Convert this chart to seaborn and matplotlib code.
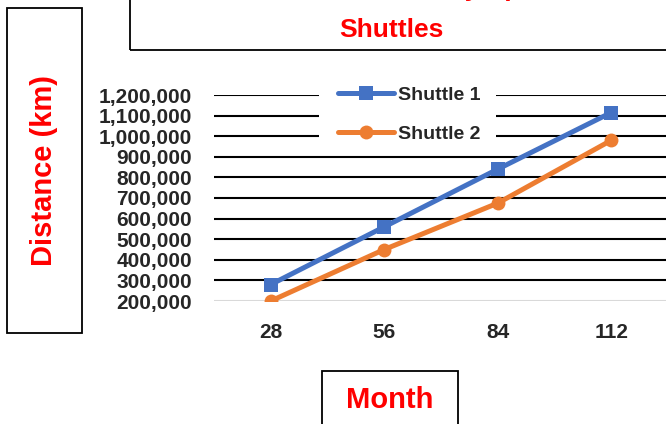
import pandas as pd
import matplotlib.pyplot as plt
import matplotlib.patches as mpatches
from matplotlib.ticker import FuncFormatter
import seaborn as sns

months = ['28', '56', '84', '112']
shuttle_1 = [280000, 560000, 840000, 1115000]
shuttle_2 = [200000, 450000, 675000, 980000]
series_names = ['Shuttle 1', 'Shuttle 2']
y_ticks = [200000, 300000, 400000, 500000, 600000, 700000,
           800000, 900000, 1000000, 1100000, 1200000]

df = pd.DataFrame({
    'Month': months * 2,
    'Distance': shuttle_1 + shuttle_2,
    'Series': [series_names[0]] * 4 + [series_names[1]] * 4,
})

sns.set_style('white')
plt.rcParams['font.family'] = ['Liberation Sans', 'DejaVu Sans']
plt.rcParams['font.weight'] = 'bold'

W, H = 666, 424
ax_l, ax_r, ax_t, ax_b = 214, 668, 95, 301
fig = plt.figure(figsize=(W / 100, H / 100), dpi=100)
ax = fig.add_axes([ax_l / W, 1 - ax_b / H, (ax_r - ax_l) / W, (ax_b - ax_t) / H])

def ax_x(px):
    return (px - ax_l) / (ax_r - ax_l)

def ax_y(px):
    return (ax_b - px) / (ax_b - ax_t)

ax.set_ylim(200000, 1200000)
ax.set_yticks(y_ticks)
for t in y_ticks[1:]:
    ax.axhline(t, color='black', lw=1.5, zorder=1)
ax.axhline(200000, color='#d9d9d9', lw=1.5, zorder=1)

sns.lineplot(data=df, x='Month', y='Distance', hue='Series', style='Series',
             markers={'Shuttle 1': 's', 'Shuttle 2': 'o'}, dashes=False,
             palette={'Shuttle 1': '#4472c4', 'Shuttle 2': '#ed7d31'},
             linewidth=3.6, markersize=10, markeredgewidth=0, ax=ax, zorder=3)
ax.set_xlim(-0.5, 3.5)

for s in ax.spines.values():
    s.set_visible(False)
ax.tick_params(length=0, labelsize=15)
ax.tick_params(axis='y', pad=16)
ax.tick_params(axis='x', pad=16)
ax.yaxis.set_major_formatter(FuncFormatter(lambda v, p: f'{int(v):,}'))
for lab in ax.get_xticklabels() + ax.get_yticklabels():
    lab.set_fontweight('bold')
ax.set_xlabel('')
ax.set_ylabel('')

# white background behind the legend, hiding the gridlines there
ax.add_patch(mpatches.Rectangle((ax_x(319), ax_y(147)), ax_x(496) - ax_x(319), ax_y(70) - ax_y(147),
                                transform=ax.transAxes, facecolor='white', edgecolor='none',
                                zorder=2, clip_on=False))
leg = ax.legend(loc='upper left', bbox_to_anchor=(ax_x(338), ax_y(86)),
                borderaxespad=0, frameon=False, fontsize=14, handlelength=2.9,
                handletextpad=0.2, labelspacing=1.1, borderpad=0, title=None)
for t in leg.get_texts():
    t.set_fontweight('bold')

# boxed title and axis labels
box_kw = dict(fill=False, edgecolor='black', lw=1.3, transform=fig.transFigure, clip_on=False)
fig.patches.append(mpatches.Rectangle((130 / W, 1 - 50 / H), 600 / W, 80 / H, **box_kw))
fig.patches.append(mpatches.Rectangle((7 / W, 1 - 333 / H), 75 / W, 325 / H, **box_kw))
fig.patches.append(mpatches.Rectangle((322 / W, 1 - 440 / H), 136 / W, 69 / H, **box_kw))

fig.text(391 / W, 1 - 42 / H, 'Distance Traveled by Space\nShuttles', ha='center', va='bottom',
         color='red', fontsize=19, fontweight='bold', linespacing=1.9)
fig.text(44 / W, 1 - 171 / H, 'Distance (km)', rotation=90, ha='center', va='center',
         color='red', fontsize=21, fontweight='bold')
fig.text(390 / W, 1 - 400 / H, 'Month', ha='center', va='center',
         color='red', fontsize=21, fontweight='bold')

fig.savefig('out.png', dpi=100)
